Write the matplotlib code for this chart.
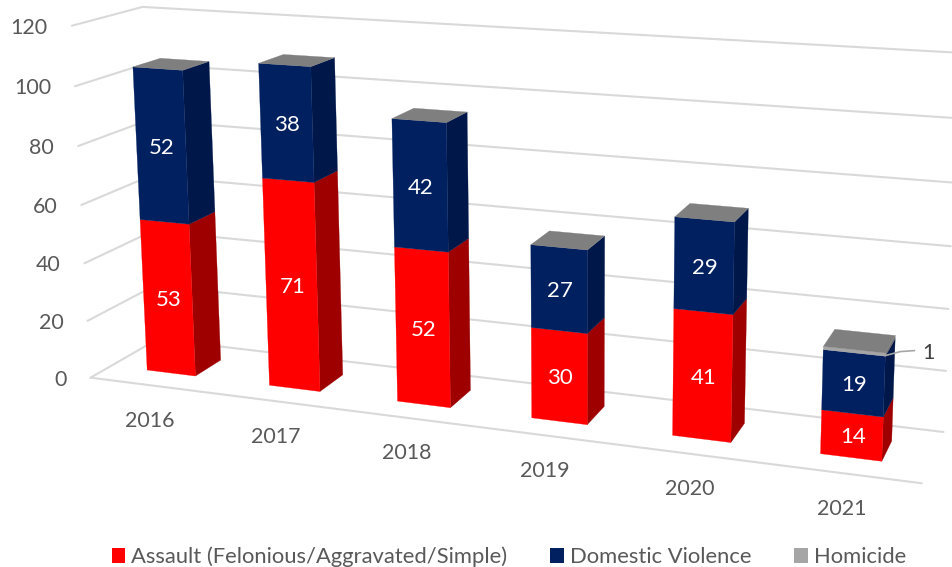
import numpy as np
import matplotlib
matplotlib.use("Agg")
import matplotlib.pyplot as plt
from matplotlib.patches import Polygon, Patch

# ---- data ----
years = ["2016", "2017", "2018", "2019", "2020", "2021"]
assault = [53, 71, 52, 30, 41, 14]
domestic = [52, 38, 42, 27, 29, 19]
homicide = [0, 0, 0, 0, 0, 1]
value_ticks = [0, 20, 40, 60, 80, 100, 120]
series_names = ["Assault (Felonious/Aggravated/Simple)", "Domestic Violence", "Homicide"]

# ---- styles ----
front_cols = ["#FF0000", "#002060", "#A5A5A5"]
side_cols = ["#9E0000", "#00174A", "#707070"]
top_col = "#7F7F7F"
grid_col = "#D9D9D9"
label_col = "#595959"
FONT = "Lato"
FS_TICK = 15.4
FS_DATA = 16
FS_LEG = 15.8
BAR_X0, BAR_X1 = 0.3, 0.7   # bar extent inside a category
BAR_Z0, BAR_Z1 = 0.3, 0.7   # bar extent inside the depth

# ---- camera calibration: (category, value, depth) -> figure pixel ----
calib = [
    (0, 0, 0, 92, 377), (0, 20, 0, 88, 320), (0, 40, 0, 84, 263), (0, 60, 0, 80, 206),
    (0, 80, 0, 77, 147), (0, 100, 0, 73, 86), (0, 120, 0, 69, 25),
    (0, 0, 1, 150, 345), (0, 120, 1, 145, 7),
    (6, 0, 0, 921, 485), (6, 0, 1, 944, 431), (6, 20, 1, 947, 371),
    (6, 100, 1, 953, 116), (6, 120, 1, 955, 50),
    (.3, 0, .3, 149, 369), (.7, 0, .3, 197, 374), (.7, 0, .7, 223, 358),
    (.3, 53, .3, 141, 220), (.7, 53, .3, 191, 224),
    (1.3, 0, .3, 270, 384), (1.7, 0, .3, 320, 390), (1.7, 0, .7, 344, 373),
    (1.3, 109, .3, 258, 63), (1.7, 109, .3, 311, 66),
    (5.3, 0, .3, 819, 453), (5.7, 0, .3, 881, 461), (5.7, 0, .7, 892, 443),
    (.3, 105, .3, 133, 68), (.7, 105, .3, 183, 71), (.7, 105, .7, 210, 62), (.3, 105, .7, 162, 59),
    (5.3, 34, .3, 824, 349), (5.7, 34, .3, 887, 357), (5.7, 34, .7, 897, 336), (5.3, 34, .7, 836, 329),
    (3.3, 0, .3, 530, 417), (3.7, 0, .3, 586, 424), (4.3, 0, .3, 671, 435), (4.7, 0, .3, 729, 442),
    (3.3, 57, .3, 531, 245), (3.7, 57, .3, 588, 251), (3.7, 57, .7, 605, 236), (3.3, 57, .7, 549, 231),
    (4.3, 70, .3, 676, 217), (4.7, 70, .3, 736, 222), (4.7, 70, .7, 750, 208), (4.3, 70, .7, 692, 203),
]
rows = []
for X, Y, Z, u, v in calib:
    w = np.array([X / 6, Y / 120, Z, 1.0])
    u, v = u / 1000, v / 1000
    rows.append(np.r_[w, 0, 0, 0, 0, -u * w])
    rows.append(np.r_[0, 0, 0, 0, w, -v * w])
P = np.linalg.svd(np.array(rows))[2][-1].reshape(3, 4)


def project(cat, val, depth):
    h = P @ np.array([cat / 6, val / 120, depth, 1.0])
    return h[0] / h[2] * 1000, h[1] / h[2] * 1000


fig = plt.figure(figsize=(9.53, 5.67), dpi=100, facecolor="white")
ax = fig.add_axes([0, 0, 1, 1])
ax.set_xlim(0, 953)
ax.set_ylim(567, 0)
ax.axis("off")


def grid_line(*pts):
    xy = np.array([project(*p) for p in pts])
    ax.plot(xy[:, 0], xy[:, 1], color=grid_col, lw=1.5, solid_capstyle="round", zorder=1)


def face(pts, color, z):
    ax.add_patch(Polygon([project(*p) for p in pts], closed=True, facecolor=color,
                         edgecolor=color, lw=0.2, zorder=z))


# walls and floor
n = len(years)
for v in value_ticks:
    grid_line((0, v, 0), (0, v, 1), (n, v, 1))
    x, y = project(0, v, 0)
    ax.text(x - 24, y + 2, str(v), ha="right", va="center", color=label_col,
            fontsize=FS_TICK, family=FONT)
grid_line((0, 0, 0), (n, 0, 0))

# bars
for i, year in enumerate(years):
    x0, x1 = i + BAR_X0, i + BAR_X1
    base = 0
    z = 2 + i * 0.01
    for s, vals in enumerate((assault, domestic, homicide)):
        top = base + vals[i]
        if vals[i] > 0:
            face([(x1, base, BAR_Z0), (x1, base, BAR_Z1), (x1, top, BAR_Z1), (x1, top, BAR_Z0)],
                 side_cols[s], z)
            face([(x0, base, BAR_Z0), (x1, base, BAR_Z0), (x1, top, BAR_Z0), (x0, top, BAR_Z0)],
                 front_cols[s], z + 0.001)
        base = top
    face([(x0, base, BAR_Z0), (x1, base, BAR_Z0), (x1, base, BAR_Z1), (x0, base, BAR_Z1)],
         top_col, z + 0.002)

    # value labels
    base = 0
    for s, vals in enumerate((assault, domestic)):
        cx, cy = project(i + 0.5, base + vals[i] / 2, BAR_Z0)
        ax.text(cx + 1, cy + 2, str(vals[i]), ha="center", va="center", color="white",
                fontsize=FS_DATA, family=FONT, zorder=5)
        base += vals[i]

    # category label
    cx, cy = project(i + 0.5, 0, 0)
    ax.text(cx - 1, cy + 35.5, year, ha="center", va="center", color=label_col,
            fontsize=FS_TICK, family=FONT)

# homicide callout in the last category
hx, hy = project(n - 1 + BAR_X1, sum((assault[-1], domestic[-1])) + homicide[-1] / 2, BAR_Z0)
ax.plot([hx, hx + 15, hx + 29], [hy + 1, hy - 3, hy - 4], color="#A6A6A6", lw=1.2, zorder=6)
ax.text(hx + 43, hy - 2, str(homicide[-1]), ha="center", va="center", color="#404040",
        fontsize=FS_TICK, family=FONT, zorder=6)

# legend
handles = [Patch(facecolor=c, edgecolor="none") for c in front_cols]
fig.legend(handles, series_names, ncol=3, frameon=False, loc="center",
           bbox_to_anchor=(509 / 953, 1 - 557 / 567), prop={"family": FONT, "size": FS_LEG},
           labelcolor=label_col, handlelength=0.63, handleheight=0.63,
           handletextpad=0.27, columnspacing=1.95)

fig.savefig("out.png", dpi=100, facecolor="white")
